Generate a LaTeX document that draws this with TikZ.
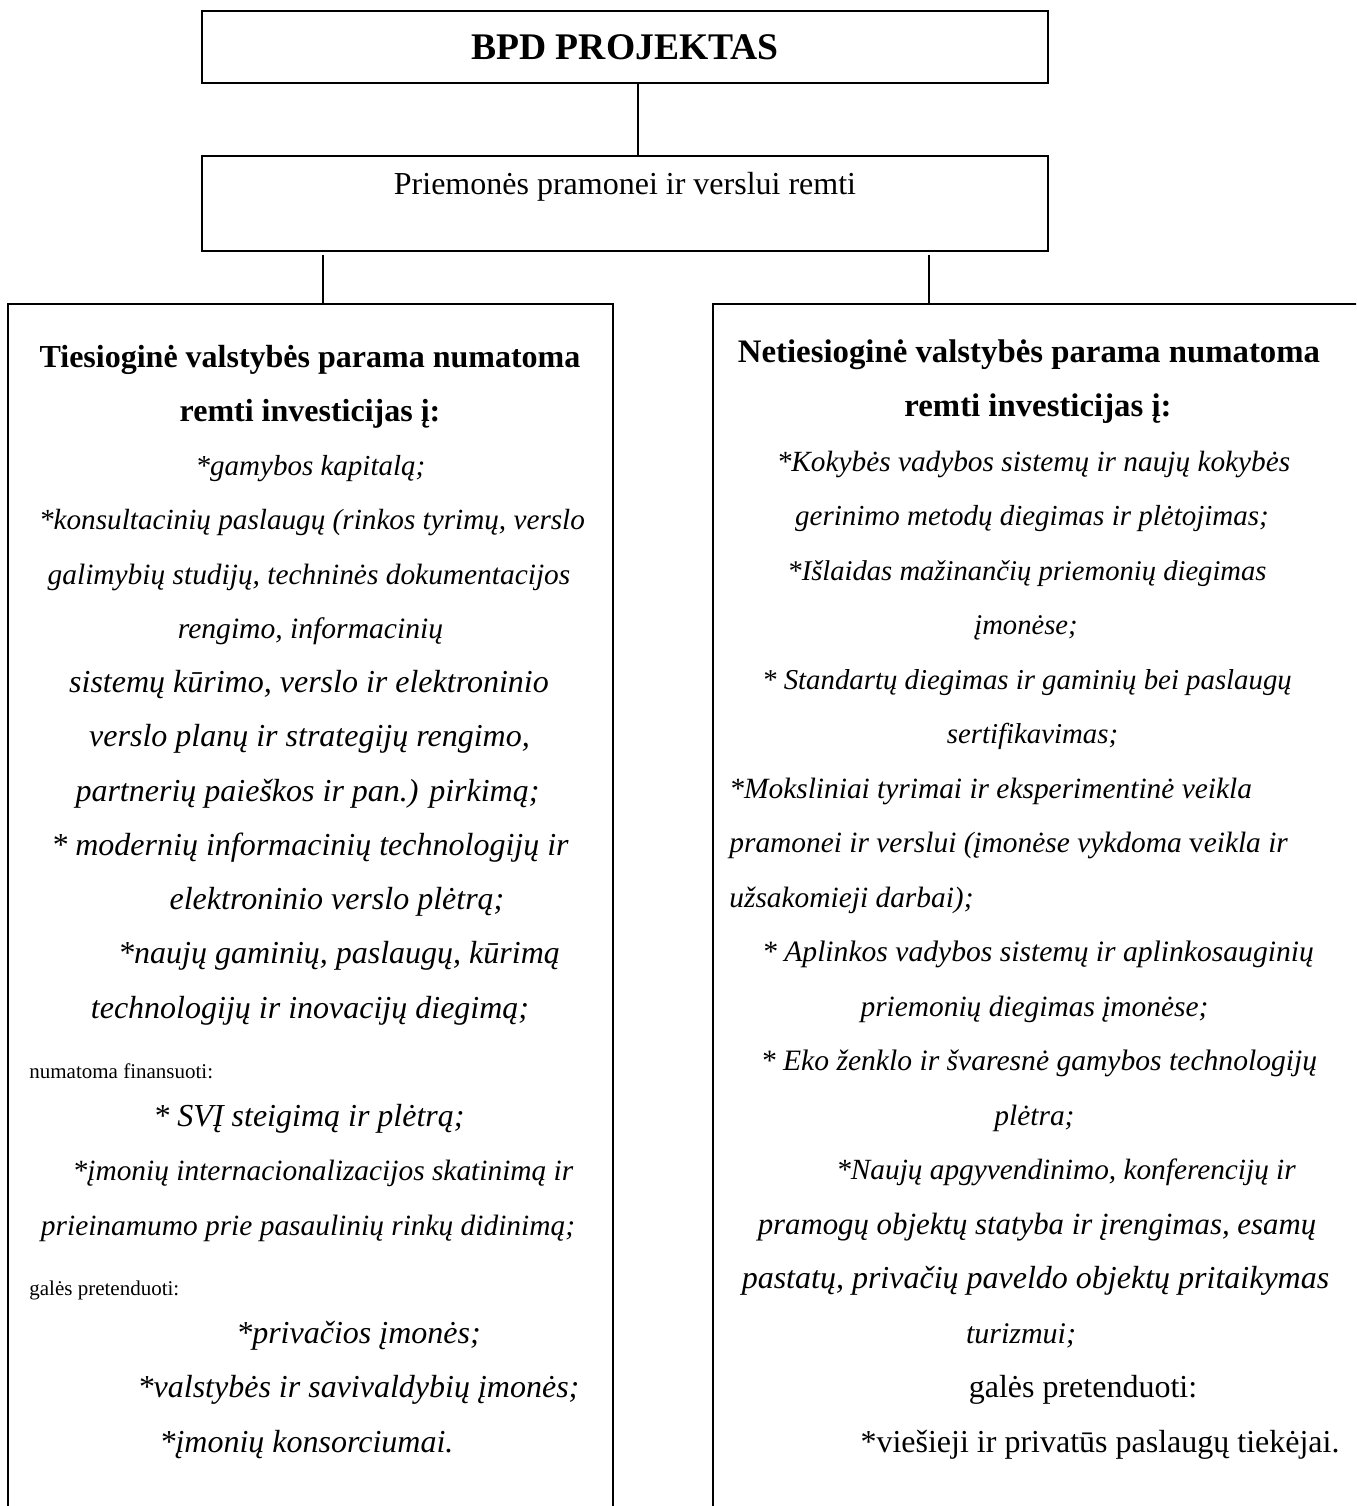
\documentclass[tikz,border=0pt]{standalone}
\usepackage{fontspec}
\setmainfont{Liberation Serif}
\usetikzlibrary{positioning}
\tikzset{bpd-line/.style={line width=0.75pt}}
\tikzset{bpd-box/.style={draw, line width=1pt, inner sep=0, minimum width=423pt}}
\tikzset{bpd-column/.style={draw, line width=1pt, inner sep=0, minimum height=640pt, anchor=north west}}
\tikzset{bpd-bf/.style={font=\bfseries, anchor=base, inner sep=0}}
\tikzset{bpd-it/.style={font=\itshape, anchor=base, inner sep=0}}
\tikzset{bpd-rm/.style={anchor=base, inner sep=0}}
\tikzset{bpd-left/.style={font=\itshape, anchor=base west, inner sep=0}}
\tikzset{bpd-small/.style={anchor=base west, inner sep=0, yshift=-3pt}}

\begin{document}
\begin{tikzpicture}[]
            \useasboundingbox (0,0) rectangle (678pt,-753pt);
            \clip (0,0) rectangle (678pt,-753pt);

            \node[bpd-box, minimum height=36pt, font=\fontsize{18.8}{21}\selectfont\bfseries] (title) at (312.5pt,-23.5pt) {BPD PROJEKTAS};
            \node[bpd-box, minimum height=47.5pt, below=35.5pt of title] (measures) {};
            \node[bpd-rm, anchor=center, font=\fontsize{16}{19}\selectfont] (measurestext) at ([yshift=-16pt]measures.north) {Priemonės pramonei ir verslui remti};

            \node[bpd-column, below=25.5pt of measures.south west, anchor=north west, xshift=-97pt, minimum width=302.5pt] (leftbox) {};
            \node[bpd-column, below=25.5pt of measures.south east, anchor=north west, xshift=-168.5pt, minimum width=340pt] (rightbox) {};

            \coordinate (topjoin) at ([xshift=6.4pt]measures.north);
            \coordinate (leftjoin) at ([xshift=6.25pt]leftbox.north);
            \coordinate (rightjoin) at ([xshift=108.5pt]rightbox.north west);

            \draw[bpd-line] (topjoin) -- (topjoin |- title.south);
            \draw[bpd-line, shorten >=1.5pt] (leftjoin) -- (leftjoin |- measures.south);
            \draw[bpd-line, shorten >=1.5pt] (rightjoin) -- (rightjoin |- measures.south);

            \foreach \dx/\fs/\kind/\txt [count=\i] in {
                151.5/16/bpd-bf/{Tiesioginė valstybės parama numatoma},
                151.5/16/bpd-bf/{remti investicijas į:},
                151.75/14.5/bpd-it/{*gamybos kapitalą;},
                152.5/14.6/bpd-it/{*konsultacinių paslaugų (rinkos tyrimų, verslo},
                151/14.7/bpd-it/{galimybių studijų, techninės dokumentacijos},
                151.75/14.8/bpd-it/{rengimo, informacinių},
                151/16/bpd-it/{sistemų kūrimo, verslo ir elektroninio},
                151.25/16/bpd-it/{verslo planų ir strategijų rengimo,},
                150.25/16/bpd-it/{partnerių paieškos ir pan.) pirkimą;},
                151.5/16/bpd-it/{* modernių informacinių technologijų ir},
                165/16/bpd-it/{elektroninio verslo plėtrą;},
                166/16/bpd-it/{*naujų gaminių, paslaugų, kūrimą},
                151.5/16/bpd-it/{technologijų ir inovacijų diegimą;},
                11/10.5/bpd-small/{numatoma finansuoti:},
                151/16/bpd-it/{* SVĮ steigimą ir plėtrą;},
                158/14.7/bpd-it/{*įmonių internacionalizacijos skatinimą ir},
                150.5/14.7/bpd-it/{prieinamumo prie pasaulinių rinkų didinimą;},
                11/10.5/bpd-small/{galės pretenduoti:},
                175.75/16/bpd-it/{*privačios įmonės;},
                175.75/16/bpd-it/{*valstybės ir savivaldybių įmonės;},
                149.75/16/bpd-it/{*įmonių konsorciumai.}} {
                \pgfmathsetmacro\dy{32+(\i-1)*27.125}
                \node[\kind] (left-\i) at ([xshift=\dx pt, yshift=-\dy pt]leftbox.north west) {\fontsize{\fs}{19}\selectfont\txt};
            }

            \foreach \dx/\fs/\kind/\txt [count=\i] in {
                158.5/16.4/bpd-bf/{Netiesioginė valstybės parama numatoma},
                163/16.4/bpd-bf/{remti investicijas į:},
                160.75/14.65/bpd-it/{*Kokybės vadybos sistemų ir naujų kokybės},
                160/14.5/bpd-it/{gerinimo metodų diegimas ir plėtojimas;},
                157.5/14.3/bpd-it/{*Išlaidas mažinančių priemonių diegimas},
                157/14.3/bpd-it/{įmonėse;},
                157.5/14.4/bpd-it/{* Standartų diegimas ir gaminių bei paslaugų},
                160.25/14.4/bpd-it/{sertifikavimas;},
                8.5/14.7/bpd-left/{*Moksliniai tyrimai ir eksperimentinė veikla},
                8.5/14.7/bpd-left/{pramonei ir verslui (įmonėse vykdoma \textup{v}eikla ir},
                8.5/14.7/bpd-left/{užsakomieji darbai);},
                163/14.8/bpd-it/{* Aplinkos vadybos sistemų ir aplinkosauginių},
                161.25/14.7/bpd-it/{priemonių diegimas įmonėse;},
                163.5/14.8/bpd-it/{* Eko ženklo ir švaresnė gamybos technologijų},
                161.25/14.7/bpd-it/{plėtra;},
                177/14.65/bpd-it/{*Naujų apgyvendinimo, konferencijų ir},
                162.5/15.4/bpd-it/{pramogų objektų statyba ir įrengimas, esamų},
                161.75/16/bpd-it/{pastatų, privačių paveldo objektų pritaikymas},
                154.5/15/bpd-it/{turizmui;},
                185.5/16/bpd-rm/{galės pretenduoti:},
                194/16/bpd-rm/{*viešieji ir privatūs paslaugų tiekėjai.}} {
                \pgfmathsetmacro\dy{29.5+(\i-1)*27.25}
                \node[\kind] (right-\i) at ([xshift=\dx pt, yshift=-\dy pt]rightbox.north west) {\fontsize{\fs}{19}\selectfont\txt};
            }

        \end{tikzpicture}
\end{document}
